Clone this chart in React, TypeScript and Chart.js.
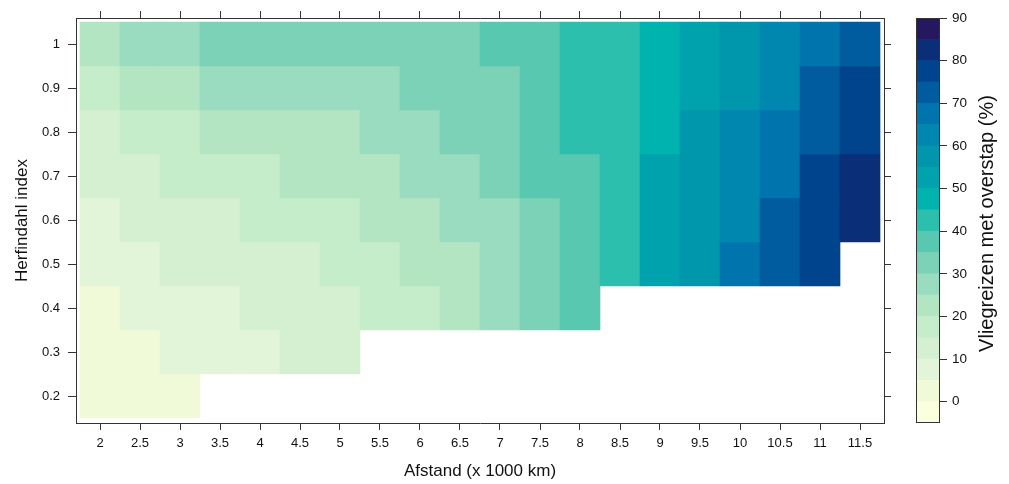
import React, { useEffect, useRef } from 'react';
import { Chart, registerables } from 'chart.js';

Chart.register(...registerables);

// ---- data ----
const afstand = [2, 2.5, 3, 3.5, 4, 4.5, 5, 5.5, 6, 6.5, 7, 7.5, 8, 8.5, 9, 9.5, 10, 10.5, 11, 11.5];
const herfindahl = [1.0, 0.9, 0.8, 0.7, 0.6, 0.5, 0.4, 0.3, 0.2];

// percentage of flights with a transfer, per Herfindahl row (null = no data)
const pctH10 = [22, 27, 27, 32, 32, 32, 32, 32, 32, 32, 37, 37, 42, 42, 47, 52, 57, 62, 67, 72];
const pctH09 = [17, 22, 22, 27, 27, 27, 27, 27, 32, 32, 32, 37, 42, 42, 47, 52, 57, 62, 72, 77];
const pctH08 = [12, 17, 17, 22, 22, 22, 22, 27, 27, 32, 32, 37, 42, 42, 47, 57, 62, 67, 72, 77];
const pctH07 = [12, 12, 17, 17, 17, 22, 22, 22, 27, 27, 32, 37, 37, 42, 52, 57, 62, 67, 77, 82];
const pctH06 = [7, 12, 12, 12, 17, 17, 17, 22, 22, 27, 27, 32, 37, 42, 52, 57, 62, 72, 77, 82];
const pctH05 = [7, 7, 12, 12, 12, 12, 17, 17, 22, 22, 27, 32, 37, 42, 52, 57, 67, 72, 77, null];
const pctH04 = [2, 7, 7, 7, 12, 12, 12, 17, 17, 22, 27, 32, 37, null, null, null, null, null, null, null];
const pctH03 = [2, 2, 7, 7, 7, 12, 12, null, null, null, null, null, null, null, null, null, null, null, null, null];
const pctH02 = [2, 2, 2, null, null, null, null, null, null, null, null, null, null, null, null, null, null, null, null, null];
const pctRows = [pctH10, pctH09, pctH08, pctH07, pctH06, pctH05, pctH04, pctH03, pctH02];

// colour key
const keyBreaks = [-5, 0, 5, 10, 15, 20, 25, 30, 35, 40, 45, 50, 55, 60, 65, 70, 75, 80, 85, 90];
const keyColors = [
  '#FCFFDD', '#F0FAD8', '#E3F5D8', '#D4F0D0', '#C5EDC9', '#B3E5C3', '#9ADCBF', '#7BD2B7',
  '#58C8B1', '#2CBFAE', '#00B3AE', '#00A3AD', '#0096AC', '#0087AF', '#0074AD', '#005B9F',
  '#00448D', '#0A2E78', '#26185F',
];
const xTitle = 'Afstand (x 1000 km)';
const yTitle = 'Herfindahl index';
const keyTitle = 'Vliegreizen met overstap (%)';

const FONT = "'Liberation Sans', Arial, Helvetica, sans-serif";
const TEXT = '#111';
const AXIS = '#333';

function colorFor(v: number): string {
  for (let i = 0; i < keyColors.length; i++) {
    if (v >= keyBreaks[i] && v < keyBreaks[i + 1]) return keyColors[i];
  }
  return keyColors[keyColors.length - 1];
}

const X_MIN = 1.7;
const X_MAX = 11.8;
const Y_MIN = 0.15 - 5 / 440;
const Y_MAX = 1.05 + 4 / 440;

export default function App() {
  const mainRef = useRef<HTMLCanvasElement | null>(null);
  const keyRef = useRef<HTMLCanvasElement | null>(null);

  useEffect(() => {
    const datasets = herfindahl.map((h, r) => ({
      label: 'H ' + h,
      grouped: false,
      barPercentage: 1,
      categoryPercentage: 1,
      borderWidth: 0,
      data: afstand
        .map((x, c) => (pctRows[r][c] == null ? null : { x, y: [h - 0.05, h + 0.05], v: pctRows[r][c] }))
        .filter((d) => d !== null),
      backgroundColor: (ctx: any) => (ctx.raw ? colorFor(ctx.raw.v) : 'rgba(0,0,0,0)'),
    }));

    const gridTicks = (len: number) => ({
      display: true,
      drawOnChartArea: false,
      drawTicks: true,
      tickLength: len,
      color: AXIS,
      lineWidth: 1,
      offset: false,
    });
    const border = { display: true, color: AXIS, width: 1 };
    const tickFont = { family: FONT, size: 13 };

    const main = new Chart(mainRef.current as HTMLCanvasElement, {
      type: 'bar',
      data: { datasets: datasets as any },
      options: {
        responsive: false,
        animation: false,
        layout: { padding: 0 },
        plugins: { legend: { display: false }, tooltip: { enabled: false } },
        scales: {
          x: {
            type: 'linear',
            position: 'bottom',
            min: X_MIN,
            max: X_MAX,
            offset: false,
            grid: gridTicks(7),
            border,
            ticks: {
              stepSize: 0.5,
              includeBounds: false,
              autoSkip: false,
              maxRotation: 0,
              padding: 6,
              font: tickFont,
              color: TEXT,
              callback: (v: any) => String(v),
            },
            title: { display: true, text: xTitle, font: { family: FONT, size: 17 }, color: TEXT, padding: { top: 0, bottom: 2 } },
            afterFit: (s: any) => { s.height = 61; },
          },
          x2: {
            type: 'linear',
            position: 'top',
            min: X_MIN,
            max: X_MAX,
            offset: false,
            grid: gridTicks(7),
            border,
            ticks: { display: false, stepSize: 0.5, includeBounds: false, autoSkip: false },
            afterFit: (s: any) => { s.height = 18; },
          },
          y: {
            type: 'linear',
            position: 'left',
            min: Y_MIN,
            max: Y_MAX,
            beginAtZero: false,
            grid: gridTicks(8),
            border,
            ticks: {
              stepSize: 0.1,
              includeBounds: false,
              autoSkip: false,
              padding: 8,
              font: tickFont,
              color: TEXT,
              callback: (v: any) => String(Math.round(v * 10) / 10),
            },
            title: { display: true, text: yTitle, font: { family: FONT, size: 17 }, color: TEXT, padding: { top: 12, bottom: 0 } },
            afterFit: (s: any) => { s.width = 76; },
          },
          y2: {
            type: 'linear',
            position: 'right',
            min: Y_MIN,
            max: Y_MAX,
            beginAtZero: false,
            grid: gridTicks(7),
            border,
            ticks: { display: false, stepSize: 0.1, includeBounds: false, autoSkip: false },
            afterFit: (s: any) => { s.width = 16; },
          },
        },
      } as any,
    });

    const keyDatasets: any[] = keyColors.map((c, i) => ({
      label: keyBreaks[i] + '-' + keyBreaks[i + 1],
      data: [[keyBreaks[i], keyBreaks[i + 1]]],
      backgroundColor: c,
      borderWidth: 0,
      grouped: false,
      barPercentage: 1,
      categoryPercentage: 1,
      order: 1,
    }));
    keyDatasets.push({
      label: 'frame',
      data: [[keyBreaks[0], keyBreaks[keyBreaks.length - 1]]],
      backgroundColor: 'rgba(0,0,0,0)',
      borderColor: AXIS,
      borderWidth: 1,
      borderSkipped: false,
      grouped: false,
      barPercentage: 1,
      categoryPercentage: 1,
      inflateAmount: 0,
      order: -1,
    });

    const keyTitlePlugin = {
      id: 'keyTitle',
      afterDraw(chart: any) {
        const { ctx, chartArea } = chart;
        ctx.save();
        ctx.translate(87, (chartArea.top + chartArea.bottom) / 2 + 3);
        ctx.rotate(-Math.PI / 2);
        ctx.font = `20px ${FONT}`;
        ctx.fillStyle = TEXT;
        ctx.textAlign = 'center';
        ctx.textBaseline = 'middle';
        ctx.fillText(keyTitle, 0, 0);
        ctx.restore();
      },
    };

    const key = new Chart(keyRef.current as HTMLCanvasElement, {
      type: 'bar',
      data: { labels: ['key'], datasets: keyDatasets },
      options: {
        responsive: false,
        animation: false,
        layout: { padding: { left: 16, top: 18, bottom: 61, right: 0 } },
        plugins: { legend: { display: false }, tooltip: { enabled: false } },
        scales: {
          x: { display: false },
          y: {
            type: 'linear',
            position: 'right',
            min: keyBreaks[0],
            max: keyBreaks[keyBreaks.length - 1],
            beginAtZero: false,
            grid: { display: true, drawOnChartArea: false, drawTicks: true, tickLength: 7, color: AXIS },
            border: { display: false },
            ticks: { stepSize: 10, includeBounds: false, padding: 5, font: { family: FONT, size: 13.5 }, color: TEXT },
            afterFit: (s: any) => { s.width = 69; },
          },
        },
      } as any,
      plugins: [keyTitlePlugin],
    });

    return () => {
      main.destroy();
      key.destroy();
    };
  }, []);

  return (
    <div style={{ position: 'absolute', left: 0, top: 0, width: 1009, height: 484, background: '#fff' }}>
      <canvas ref={mainRef} width={900} height={484} style={{ position: 'absolute', left: 0, top: 0 }} />
      <canvas ref={keyRef} width={109} height={484} style={{ position: 'absolute', left: 900, top: 0 }} />
    </div>
  );
}
